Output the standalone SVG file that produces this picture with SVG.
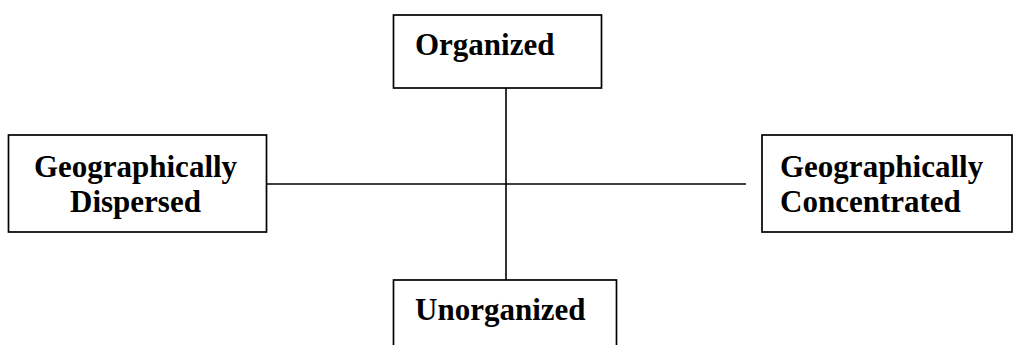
<svg xmlns="http://www.w3.org/2000/svg" width="1013" height="345" viewBox="0 0 1013 345">
<style>
.box{fill:#fff;stroke:#000;stroke-width:1.7}
.t{font-family:"Liberation Serif","Times New Roman",serif;font-weight:bold;font-size:31px;fill:#000}
.c{stroke:#000;stroke-width:1.6;fill:none}
</style>
<rect width="1013" height="345" fill="#fff"/>
<g id="connectors">
<line class="c" x1="506" y1="88" x2="506" y2="280"/>
<line class="c" x1="266" y1="184" x2="746" y2="184"/>
</g>
<g id="organized">
<rect class="box" x="393.5" y="15" width="208" height="73"/>
<text class="t" x="415" y="55">Organized</text>
</g>
<g id="dispersed">
<rect class="box" x="8.5" y="135" width="258" height="97"/>
<text class="t" x="135.5" y="177" text-anchor="middle">Geographically</text>
<text class="t" x="135.5" y="212" text-anchor="middle">Dispersed</text>
</g>
<g id="concentrated">
<rect class="box" x="762" y="135" width="250" height="97"/>
<text class="t" x="780" y="177">Geographically</text>
<text class="t" x="780" y="212">Concentrated</text>
</g>
<g id="unorganized">
<rect class="box" x="393.5" y="280" width="223" height="80"/>
<text class="t" x="415" y="320">Unorganized</text>
</g>
</svg>
